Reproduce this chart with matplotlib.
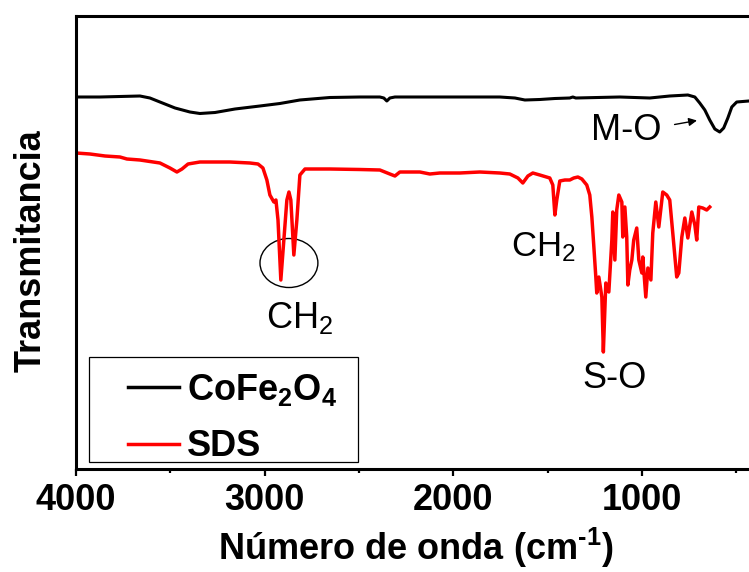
import matplotlib
matplotlib.use('Agg')
import matplotlib.pyplot as plt
from matplotlib.patches import Ellipse, Rectangle

plt.rcParams['font.family'] = ['Liberation Sans', 'DejaVu Sans']
plt.rcParams['mathtext.fontset'] = 'custom'
plt.rcParams['mathtext.rm'] = 'Liberation Sans:bold'
plt.rcParams['mathtext.bf'] = 'Liberation Sans:bold'
plt.rcParams['mathtext.default'] = 'regular'

# CoFe2O4 spectrum (wavenumber cm-1, transmittance a.u.)
wn_cofe = [4000, 3873, 3767, 3661, 3608, 3555, 3475, 3396, 3343, 3263, 3157, 3025,
           2919, 2813, 2654, 2495, 2389, 2368, 2352, 2336, 2309, 2018, 1753, 1673,
           1620, 1541, 1461, 1382, 1366, 1350, 1117, 958, 852, 756, 719, 693, 666,
           640, 613, 587, 566, 544, 523, 497, 433, 400]
t_cofe = [37.2, 37.2, 37.25, 37.3, 37.1, 36.7, 36.1, 35.7, 35.55, 35.65, 36.0, 36.3,
          36.55, 36.9, 37.15, 37.2, 37.2, 37.1, 36.8, 37.1, 37.2, 37.2, 37.2, 37.1,
          36.9, 36.95, 37.05, 37.1, 37.2, 37.1, 37.2, 37.1, 37.3, 37.4, 37.2, 36.6, 35.9,
          34.9, 34.0, 33.7, 34.1, 35.1, 36.2, 36.7, 36.8, 36.8]

# SDS spectrum
wn_sds = [4000, 3926, 3846, 3767, 3730, 3661, 3555, 3502, 3465, 3438, 3406, 3343,
          3184, 3078, 3035, 3009, 2988, 2972, 2951, 2940, 2929, 2914, 2898, 2882,
          2871, 2861, 2845, 2829, 2813, 2786, 2654, 2495, 2389, 2336, 2309, 2283,
          2177, 2124, 2071, 1965, 1859, 1753, 1700, 1657, 1631, 1604, 1578, 1541,
          1488, 1472, 1461, 1451, 1435, 1408, 1382, 1361, 1339, 1318, 1292, 1276,
          1265, 1255, 1244, 1239, 1228, 1212, 1204, 1191, 1175, 1159, 1154, 1143,
          1133, 1122, 1106, 1101, 1090, 1080, 1074, 1064, 1053, 1043, 1027, 1016,
          1000, 995, 979, 968, 952, 942, 926, 910, 889, 868, 852, 836, 815, 804,
          788, 772, 756, 735, 719, 709, 698, 677, 656, 640]
t_sds = [31.6, 31.5, 31.3, 31.2, 31.0, 30.9, 30.6, 30.1, 29.7, 30.0, 30.5, 30.7,
         30.7, 30.6, 30.5, 30.1, 28.9, 27.4, 26.7, 26.9, 24.9, 18.9, 22.9, 26.9,
         27.7, 26.9, 21.4, 24.9, 29.4, 30.0, 30.0, 29.95, 29.9, 29.5, 29.3, 29.7,
         29.7, 29.5, 29.6, 29.6, 29.7, 29.6, 29.5, 29.1, 28.6, 29.3, 29.6, 29.4,
         29.1, 28.4, 25.4, 26.9, 28.8, 28.9, 28.9, 29.1, 29.2, 29.0, 28.4, 27.4,
         25.2, 22.4, 19.2, 17.6, 19.2, 17.2, 11.7, 18.6, 17.7, 22.9, 25.7, 20.9,
         25.9, 27.4, 26.7, 23.2, 26.2, 23.2, 18.4, 19.9, 20.9, 22.9, 24.1, 20.9,
         19.6, 21.2, 17.2, 20.1, 18.9, 23.6, 26.7, 24.2, 27.7, 27.4, 26.9, 23.6, 19.2, 19.6,
         23.2, 25.1, 23.1, 25.7, 24.4, 22.9, 26.2, 26.1, 25.9, 26.2]

major_ticks = [4000, 3000, 2000, 1000]
minor_ticks = [3500, 2500, 1500, 500]
series_labels = [r'CoFe$_2$O$_4$', 'SDS']

fig = plt.figure(figsize=(7.49, 5.72), dpi=100)
ax = fig.add_axes([76 / 749, 103 / 572, 679 / 749, 453 / 572])

ax.plot(wn_cofe, t_cofe, color='black', lw=2.2, label=series_labels[0])
ax.plot(wn_sds, t_sds, color='#ff0000', lw=2.5, label=series_labels[1])

ax.set_xlim(4000, 400)
ax.set_ylim(0, 45.3)
ax.set_yticks([])
ax.set_xticks(major_ticks)
ax.set_xticklabels([str(t) for t in major_ticks], fontweight='bold')
ax.set_xticks(minor_ticks, minor=True)
ax.tick_params(axis='x', which='major', direction='out', length=5, width=1.6,
               labelsize=26, pad=5)
ax.tick_params(axis='x', which='minor', direction='out', length=3, width=1.6)
for s in ax.spines.values():
    s.set_linewidth(2.2)
ax.spines['right'].set_visible(False)

ax.set_xlabel(r'Número de onda (cm$^{\text{-1}}$)', fontsize=26, fontweight='bold', labelpad=6)
ax.set_ylabel('Transmitancia', fontsize=26, fontweight='bold')
ax.yaxis.set_label_coords(-0.040, 0.481)

# annotations
ax.add_patch(Ellipse((2871, 20.6), width=307, height=4.9, fill=False, lw=1.0, ec='black'))
ax.text(2813, 15.1, r'CH$_2$', fontsize=26, ha='center', va='center')
ax.text(1520, 22.2, r'CH$_2$', fontsize=25, ha='center', va='center')
ax.text(1143, 9.1, 'S-O', fontsize=26, ha='center', va='center')
ax.text(1085, 33.8, 'M-O', fontsize=26, ha='center', va='center')
ax.annotate('', xy=(693, 34.9), xytext=(841, 34.4),
            arrowprops=dict(arrowstyle='-|>', lw=1.0, color='black', mutation_scale=12))

leg = ax.legend(loc='center left', bbox_to_anchor=(0.0766, 0.1126), frameon=False,
                prop={'weight': 'bold', 'size': 26}, handlelength=1.42,
                handletextpad=0.22, borderpad=0, borderaxespad=0, labelspacing=0.6)
for line in leg.get_lines():
    line.set_linewidth(2.5)
ax.add_patch(Rectangle((0.019, 0.015), 0.396, 0.232, transform=ax.transAxes,
                       fill=False, lw=0.9, ec='black'))

fig.savefig('out.png', dpi=100)
